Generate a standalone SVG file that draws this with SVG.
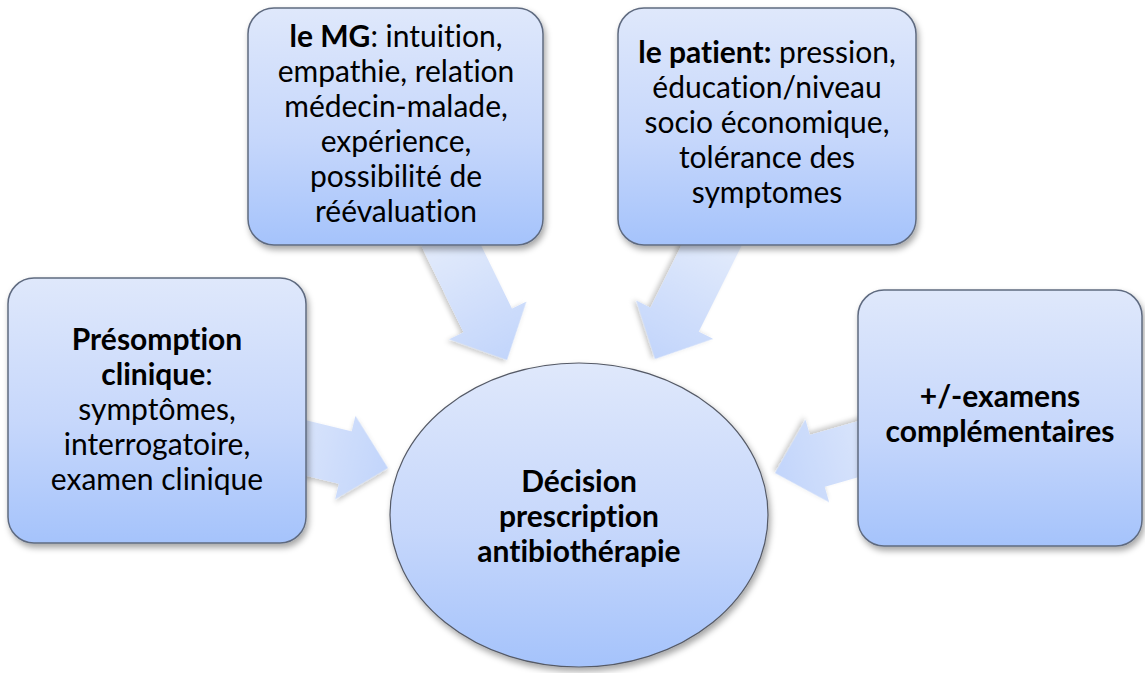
<svg xmlns="http://www.w3.org/2000/svg" width="1145" height="673" viewBox="0 0 1145 673">
<defs>
<linearGradient id="gBox" x1="0" y1="0" x2="0" y2="1">
<stop offset="0" stop-color="#dfe8fb"/>
<stop offset="0.55" stop-color="#c6d7fb"/>
<stop offset="1" stop-color="#a5c3fb"/>
</linearGradient>
<linearGradient id="gArrow" x1="0" y1="0" x2="1" y2="0">
<stop offset="0" stop-color="#e3ebfb"/>
<stop offset="1" stop-color="#c2d5fb"/>
</linearGradient>
<filter id="shadow" x="-10%" y="-10%" width="125%" height="125%">
<feDropShadow dx="2" dy="4" stdDeviation="3" flood-color="#000" flood-opacity="0.35"/>
</filter>
<filter id="ashadow" x="-20%" y="-20%" width="140%" height="140%">
<feDropShadow dx="1" dy="3" stdDeviation="2.5" flood-color="#000" flood-opacity="0.22"/>
</filter>
<polygon id="arrowShape" points="0,0 -44,-43 -44,-27 -140,-27 -140,27 -44,27 -44,43"/>
</defs>
<style>
.box{fill:url(#gBox);stroke:#5f6b80;stroke-width:1.5;filter:url(#shadow)}
.arrow{fill:url(#gArrow);filter:url(#ashadow)}
text{font-family:Lato,"Open Sans","Liberation Sans",sans-serif;font-size:30px;fill:#000;text-anchor:middle;font-variant-ligatures:none}
.b{font-weight:bold}
</style>
<g id="connectors">
<use href="#arrowShape" class="arrow" transform="translate(388,468) rotate(13.7)"/>
<use href="#arrowShape" class="arrow" transform="translate(507,360) rotate(64)"/>
<use href="#arrowShape" class="arrow" transform="translate(655,359) rotate(116.5)"/>
<use href="#arrowShape" class="arrow" transform="translate(775,473) rotate(164)"/>
</g>
<g id="node-mg">
<rect class="box" x="248" y="8" width="295" height="237" rx="26"/>
<text x="396" y="47"><tspan class="b">le MG</tspan>: intuition,</text>
<text x="396" y="82">empathie, relation</text>
<text x="396" y="117">médecin-malade,</text>
<text x="396" y="152">expérience,</text>
<text x="396" y="187">possibilité de</text>
<text x="396" y="222">réévaluation</text>
</g>
<g id="node-patient">
<rect class="box" x="618" y="8" width="298" height="237" rx="26"/>
<text x="767" y="63"><tspan class="b">le patient:</tspan> pression,</text>
<text x="767" y="98">éducation/niveau</text>
<text x="767" y="133">socio économique,</text>
<text x="767" y="168">tolérance des</text>
<text x="767" y="203">symptomes</text>
</g>
<g id="node-presomption">
<rect class="box" x="8" y="278" width="298" height="265" rx="26"/>
<text x="157" y="350" class="b">Présomption</text>
<text x="157" y="385"><tspan class="b">clinique</tspan>:</text>
<text x="157" y="420">symptômes,</text>
<text x="157" y="455">interrogatoire,</text>
<text x="157" y="490">examen clinique</text>
</g>
<g id="node-examens">
<rect class="box" x="858" y="290" width="284" height="256" rx="26"/>
<text x="1000" y="407" class="b">+/-examens</text>
<text x="1000" y="442" class="b">complémentaires</text>
</g>
<g id="node-decision">
<ellipse class="box" cx="579" cy="515" rx="189" ry="152" style="stroke:#555a66;stroke-width:1.2"/>
<text x="579" y="492" class="b">Décision</text>
<text x="579" y="527" class="b">prescription</text>
<text x="579" y="562" class="b">antibiothérapie</text>
</g>
</svg>
